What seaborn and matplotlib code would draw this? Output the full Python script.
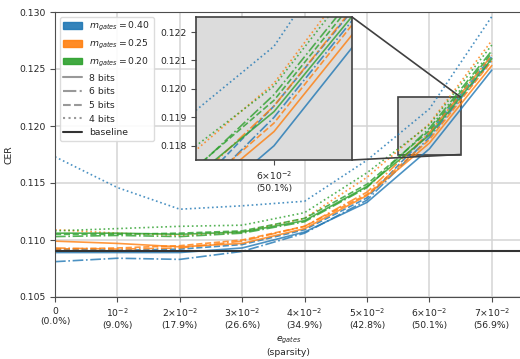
import numpy as np
import pandas as pd
import seaborn as sns
import matplotlib.pyplot as plt
import matplotlib.patches as mpatches
import matplotlib.lines as mlines
from mpl_toolkits.axes_grid1.inset_locator import mark_inset

e_gates = [0.0, 0.01, 0.02, 0.03, 0.04, 0.05, 0.06, 0.07]
sparsity = ["0.0", "9.0", "17.9", "26.6", "34.9", "42.8", "50.1", "56.9"]
tick_top = ["0", "$10^{-2}$", "$2{\\times}10^{-2}$", "$3{\\times}10^{-2}$", "$4{\\times}10^{-2}$",
            "$5{\\times}10^{-2}$", "$6{\\times}10^{-2}$", "$7{\\times}10^{-2}$"]

m_levels = ["0.40", "0.25", "0.20"]
bit_levels = ["8 bits", "6 bits", "5 bits", "4 bits"]

# m_gates = 0.40
m040_8 = [0.1089, 0.1089, 0.1089, 0.1093, 0.1107, 0.1133, 0.1180, 0.1249]
m040_6 = [0.1081, 0.1084, 0.1083, 0.1090, 0.1106, 0.1135, 0.1190, 0.1258]
m040_5 = [0.1092, 0.1091, 0.1092, 0.1096, 0.1109, 0.1137, 0.1194, 0.1261]
m040_4 = [0.1173, 0.1146, 0.1127, 0.1130, 0.1134, 0.1170, 0.1215, 0.1296]
# m_gates = 0.25
m025_8 = [0.1099, 0.1097, 0.1094, 0.1097, 0.1110, 0.1139, 0.1185, 0.1253]
m025_6 = [0.1093, 0.1092, 0.1093, 0.1099, 0.1112, 0.1142, 0.1194, 0.1262]
m025_5 = [0.1092, 0.1093, 0.1095, 0.1100, 0.1112, 0.1140, 0.1188, 0.1257]
m025_4 = [0.1109, 0.1106, 0.1104, 0.1107, 0.1119, 0.1155, 0.1202, 0.1275]
# m_gates = 0.20
m020_8 = [0.1106, 0.1106, 0.1105, 0.1107, 0.1117, 0.1147, 0.1192, 0.1259]
m020_6 = [0.1103, 0.1104, 0.1103, 0.1106, 0.1116, 0.1146, 0.1198, 0.1266]
m020_5 = [0.1105, 0.1105, 0.1106, 0.1108, 0.1119, 0.1149, 0.1196, 0.1264]
m020_4 = [0.1108, 0.1110, 0.1112, 0.1113, 0.1124, 0.1159, 0.1201, 0.1271]

baseline = 0.1090

series = {
    ("0.40", "8 bits"): m040_8, ("0.40", "6 bits"): m040_6, ("0.40", "5 bits"): m040_5, ("0.40", "4 bits"): m040_4,
    ("0.25", "8 bits"): m025_8, ("0.25", "6 bits"): m025_6, ("0.25", "5 bits"): m025_5, ("0.25", "4 bits"): m025_4,
    ("0.20", "8 bits"): m020_8, ("0.20", "6 bits"): m020_6, ("0.20", "5 bits"): m020_5, ("0.20", "4 bits"): m020_4,
}
rows = []
for (m, b), vals in series.items():
    for x, v in zip(e_gates, vals):
        rows.append({"e": x, "cer": v, "m": m, "bits": b})
df = pd.DataFrame(rows)

sns.set_style("ticks")
plt.rcParams["font.family"] = ["DejaVu Sans"]
plt.rcParams["font.size"] = 6.7
plt.rcParams["axes.edgecolor"] = "0.3"

palette = {"0.40": "#1f77b4", "0.25": "#ff7f0e", "0.20": "#2ca02c"}
dashes = {"8 bits": "", "6 bits": (6.4, 1.6, 1, 1.6), "5 bits": (3.7, 1.6), "4 bits": (1, 1.65)}
leg_styles = {"8 bits": "-", "6 bits": "-.", "5 bits": "--", "4 bits": ":"}

fig = plt.figure(figsize=(5.2, 3.59), dpi=100)
ax = fig.add_axes([55 / 520, 62 / 359, 467 / 520, 285 / 359])


def draw(a):
    sns.lineplot(data=df, x="e", y="cer", hue="m", style="bits", hue_order=m_levels,
                 style_order=bit_levels, palette=palette, dashes=dashes, linewidth=1.2,
                 alpha=0.8, legend=False, ax=a)


draw(ax)
ax.axhline(baseline, color="0.2", lw=1.5, zorder=3)
ax.set_xlim(0, 467 / 6240)
ax.set_ylim(0.105, 0.130)
ax.set_yticks([0.105, 0.110, 0.115, 0.120, 0.125, 0.130])
ax.set_yticklabels(["0.105", "0.110", "0.115", "0.120", "0.125", "0.130"])
ax.set_xticks(e_gates)
ax.set_xticklabels([t + "\n(" + s + "%)" for t, s in zip(tick_top, sparsity)])
ax.grid(True, color="0.83", lw=1.1)
ax.set_xlabel("$e_{gates}$\n(sparsity)")
ax.set_ylabel("CER")
ax.tick_params(length=3.5, color="0.3")

# inset
axins = fig.add_axes([196 / 520, 199 / 359, 156 / 520, 143 / 359])
draw(axins)
axins.set_facecolor("#dcdcdc")
axins.set_xlim(0.055, 0.065)
axins.set_ylim(0.1175, 0.12253)
axins.set_xticks([0.06])
axins.set_xticklabels(["$6{\\times}10^{-2}$\n(50.1%)"])
axins.set_yticks([0.118, 0.119, 0.120, 0.121, 0.122])
axins.set_yticklabels(["0.118", "0.119", "0.120", "0.121", "0.122"])
axins.set_xlabel("")
axins.set_ylabel("")
axins.tick_params(length=3.5, color="0.3")
for sp in axins.spines.values():
    sp.set_color("0.25")
    sp.set_linewidth(1.2)

pp, p1, p2 = mark_inset(ax, axins, loc1=1, loc2=4, fc="#dcdcdc", ec="0.25", lw=1.2)
pp.set_zorder(1.6)

handles = [mpatches.Patch(color=palette[m], alpha=0.9, label="$m_{gates} = " + m + "$") for m in m_levels]
handles += [mlines.Line2D([], [], color="0.6", lw=1.5, linestyle=leg_styles[b], label=b)
            for b in bit_levels]
handles.append(mlines.Line2D([], [], color="0.2", lw=1.5, label="baseline"))
ax.legend(handles=handles, loc="upper left", fontsize=6.7, framealpha=0.9, edgecolor="0.85")

fig.savefig("out.png", dpi=100)
